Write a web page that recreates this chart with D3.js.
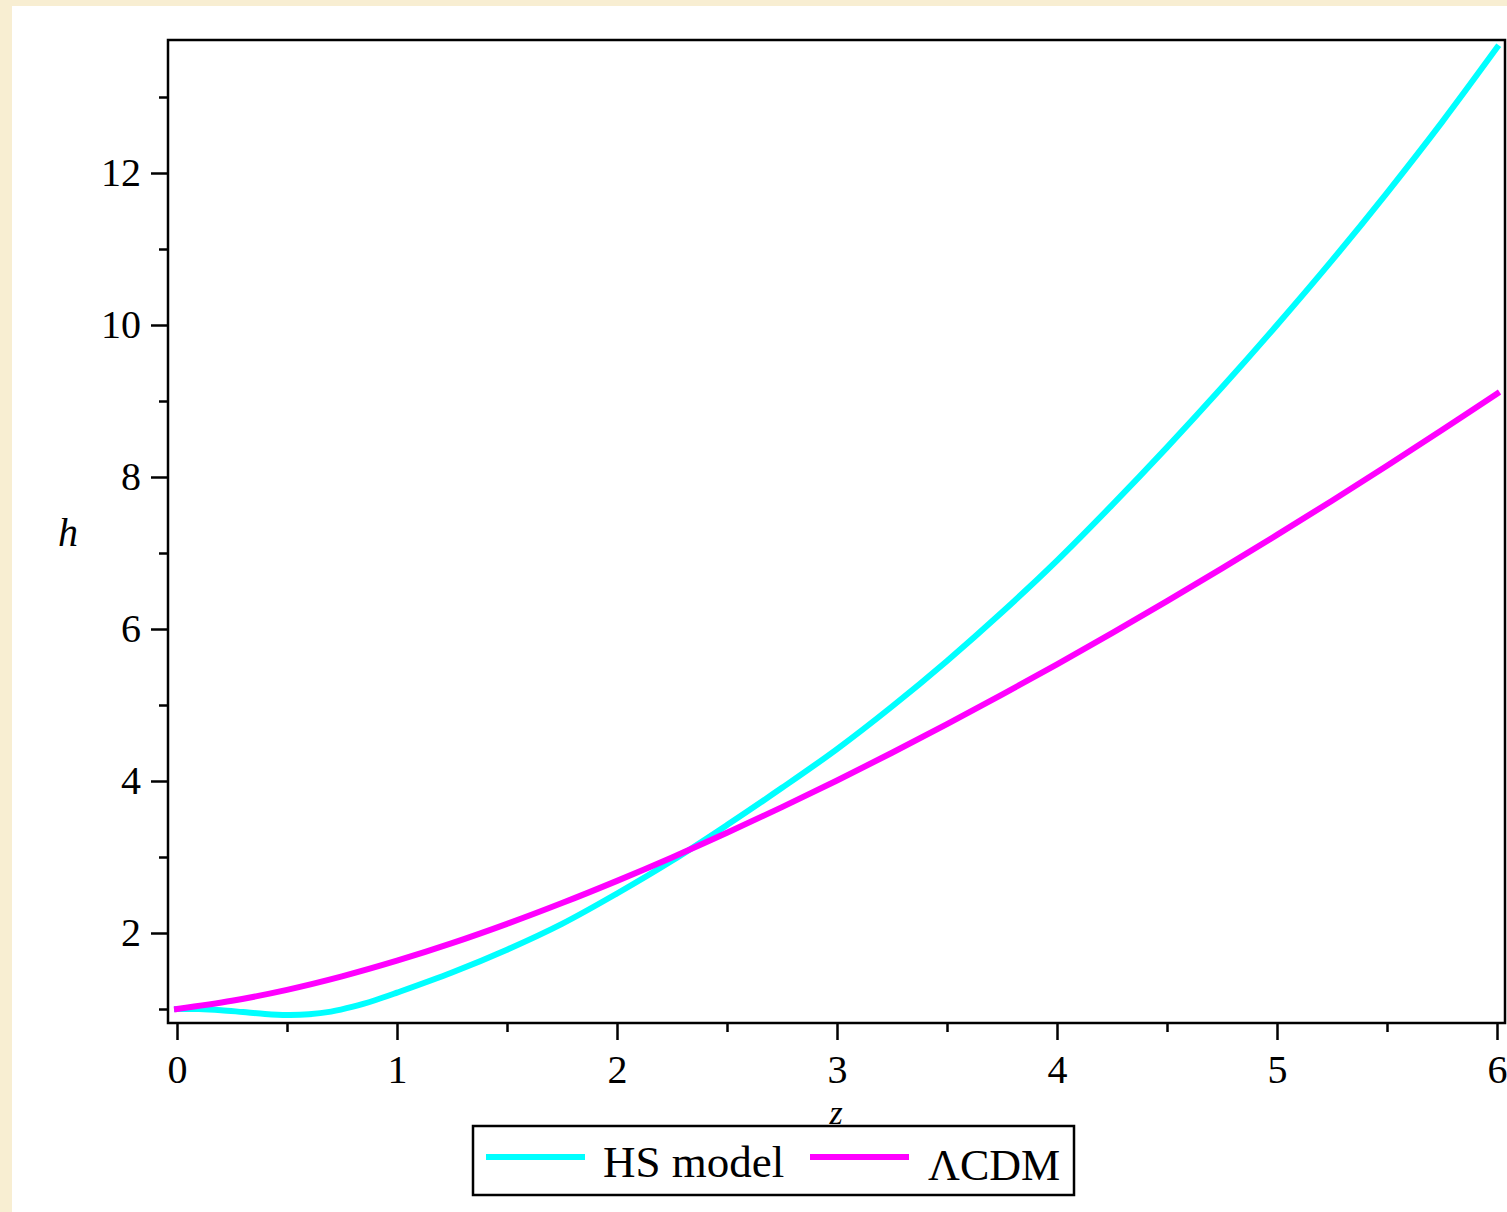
<!DOCTYPE html>
<html>
<head>
<meta charset="utf-8">
<script src="https://cdn.jsdelivr.net/npm/d3@7"></script>
<style>
  body { margin: 0; background: #f8eed2; }
  svg { display: block; }
  text { font-family: "Liberation Serif", "Times New Roman", serif; fill: #000; }
</style>
</head>
<body>
<div class="chartContainer"></div>
<script>
// redshift samples and h(z)
const zHS = [0, 0.1, 0.2, 0.3, 0.4, 0.5, 0.6, 0.7, 0.8, 0.9, 1.0, 1.25, 1.5, 1.75, 2.0, 2.25, 2.5, 2.75,
  3.0, 3.25, 3.5, 3.75, 4.0, 4.25, 4.5, 4.75, 5.0, 5.25, 5.5, 5.75, 6.0];
const hHS = [1.0, 1.0, 0.985, 0.96, 0.935, 0.922, 0.93, 0.965, 1.03, 1.115, 1.215, 1.48, 1.78, 2.12, 2.52, 2.95, 3.42, 3.91,
  4.42, 4.98, 5.58, 6.22, 6.9, 7.63, 8.39, 9.18, 10.0, 10.85, 11.74, 12.67, 13.65];

const zLCDM = [0, 0.25, 0.5, 0.75, 1.0, 1.25, 1.5, 1.75, 2.0, 2.25, 2.5, 2.75, 3.0,
  3.25, 3.5, 3.75, 4.0, 4.25, 4.5, 4.75, 5.0, 5.25, 5.5, 5.75, 6.0];
const hLCDM = [1.0, 1.108, 1.252, 1.429, 1.635, 1.866, 2.12, 2.394, 2.686, 2.994, 3.318, 3.656, 4.007,
  4.371, 4.748, 5.136, 5.535, 5.945, 6.366, 6.797, 7.238, 7.688, 8.148, 8.618, 9.096];

const xTicks = [0, 1, 2, 3, 4, 5, 6];
const xMinor = [0.5, 1.5, 2.5, 3.5, 4.5, 5.5];
const yTicks = [2, 4, 6, 8, 10, 12];
const yMinor = [1, 3, 5, 7, 9, 11, 13];

const seriesNames = ["HS model", "\u039BCDM"];
const seriesColors = ["#00ffff", "#ff00ff"];

const w = 1507;
const h = 1212;

const svg = d3.select(".chartContainer")
  .append("svg")
  .attr("width", w)
  .attr("height", h);

// white page
svg.append("rect")
  .attr("x", 12).attr("y", 6)
  .attr("width", w - 12).attr("height", h - 6)
  .attr("fill", "#fff");

const xScale = d3.scaleLinear().domain([0, 6]).range([177, 1497]);
const yScale = d3.scaleLinear().domain([2, 12]).range([933, 173]);

const frame = { left: 168, right: 1505, top: 40, bottom: 1023 };

// ticks
const xAxis = d3.axisBottom(xScale).tickValues(xTicks).tickSize(17).tickSizeOuter(0).tickPadding(15)
  .tickFormat(d3.format("d"));
const gx = svg.append("g")
  .attr("transform", "translate(0," + frame.bottom + ")")
  .call(xAxis);
gx.select(".domain").remove();
gx.selectAll("line").attr("stroke-width", 2.5);
gx.selectAll("text").style("font-size", "40px");

const gxm = svg.append("g")
  .attr("transform", "translate(0," + frame.bottom + ")")
  .call(d3.axisBottom(xScale).tickValues(xMinor).tickSize(9).tickFormat(""));
gxm.select(".domain").remove();
gxm.selectAll("line").attr("stroke-width", 2.5);

const yAxis = d3.axisLeft(yScale).tickValues(yTicks).tickSize(17).tickSizeOuter(0).tickPadding(10);
const gy = svg.append("g")
  .attr("transform", "translate(" + frame.left + ",0)")
  .call(yAxis);
gy.select(".domain").remove();
gy.selectAll("line").attr("stroke-width", 2.5);
gy.selectAll("text").style("font-size", "40px");

const gym = svg.append("g")
  .attr("transform", "translate(" + frame.left + ",0)")
  .call(d3.axisLeft(yScale).tickValues(yMinor).tickSize(9).tickFormat(""));
gym.select(".domain").remove();
gym.selectAll("line").attr("stroke-width", 2.5);

// curves
const line = d3.line()
  .x((d) => xScale(d[0]))
  .y((d) => yScale(d[1]))
  .curve(d3.curveCatmullRom.alpha(0.5));

const series = [
  d3.zip(zHS, hHS),
  d3.zip(zLCDM, hLCDM)
];

svg.selectAll("path.curve")
  .data(series)
  .enter()
  .append("path")
  .attr("class", "curve")
  .attr("d", line)
  .attr("fill", "none")
  .attr("stroke", (d, i) => seriesColors[i])
  .attr("stroke-width", 6)
  .attr("stroke-linecap", "square");

// frame
svg.append("rect")
  .attr("x", frame.left).attr("y", frame.top)
  .attr("width", frame.right - frame.left).attr("height", frame.bottom - frame.top)
  .attr("fill", "none")
  .attr("stroke", "#000")
  .attr("stroke-width", 2.5);

// axis labels
svg.append("text")
  .attr("x", 68).attr("y", 546)
  .attr("text-anchor", "middle")
  .style("font-size", "40px")
  .style("font-style", "italic")
  .text("h");

svg.append("text")
  .attr("x", 836).attr("y", 1124)
  .attr("text-anchor", "middle")
  .style("font-size", "34px")
  .style("font-style", "italic")
  .text("z");

// legend
const legend = svg.append("g").attr("id", "legend");
legend.append("rect")
  .attr("x", 473).attr("y", 1126)
  .attr("width", 601).attr("height", 69)
  .attr("fill", "#fff")
  .attr("stroke", "#000")
  .attr("stroke-width", 2.5);

const legendX = [486, 810];
const legendTextX = [603, 928];
legend.selectAll("line")
  .data(seriesNames)
  .enter()
  .append("line")
  .attr("x1", (d, i) => legendX[i])
  .attr("x2", (d, i) => legendX[i] + 99)
  .attr("y1", 1157).attr("y2", 1157)
  .attr("stroke", (d, i) => seriesColors[i])
  .attr("stroke-width", 6);
legend.selectAll("text")
  .data(seriesNames)
  .enter()
  .append("text")
  .attr("x", (d, i) => legendTextX[i])
  .attr("y", (d, i) => (i === 0 ? 1177 : 1180))
  .style("font-size", (d, i) => (i === 0 ? "45px" : "44px"))
  .text((d) => d);
</script>
</body>
</html>
